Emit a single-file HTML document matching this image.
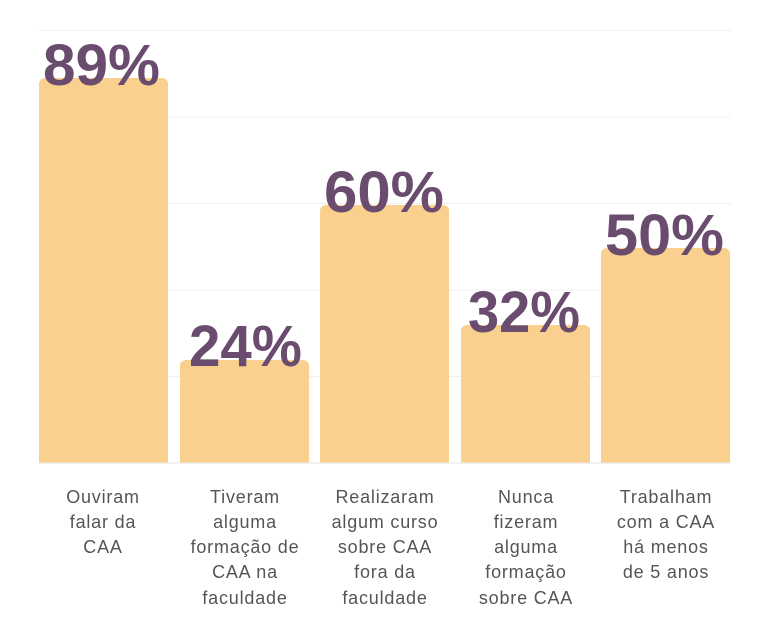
<!DOCTYPE html>
<html><head><meta charset="utf-8"><style>body{margin:0;background:#fff}svg{display:block}</style></head><body>
<svg width="768" height="633" xmlns="http://www.w3.org/2000/svg">
<g stroke="#f0f0f0" stroke-width="1">
<line x1="39" x2="731" y1="30.5" y2="30.5"/><line x1="39" x2="731" y1="117" y2="117"/><line x1="39" x2="731" y1="203.5" y2="203.5"/><line x1="39" x2="731" y1="290" y2="290"/><line x1="39" x2="731" y1="376.5" y2="376.5"/>
</g>
<g fill="#f9d08d">
<path d="M39 463V84a6 6 0 0 1 6-6h117a6 6 0 0 1 6 6V463z"/>
<path d="M180 463V366a6 6 0 0 1 6-6h117a6 6 0 0 1 6 6V463z"/>
<path d="M320 463V211a6 6 0 0 1 6-6h117a6 6 0 0 1 6 6V463z"/>
<path d="M461 463V331a6 6 0 0 1 6-6h117a6 6 0 0 1 6 6V463z"/>
<path d="M601 463V254a6 6 0 0 1 6-6h117a6 6 0 0 1 6 6V463z"/>
</g>
<line x1="39" x2="731" y1="463" y2="463" stroke="#e6e6e6"/>
<g fill="#6a4c6e" font-family="Liberation Sans, sans-serif" font-weight="bold" font-size="58">
<text x="43" y="85" textLength="117" lengthAdjust="spacingAndGlyphs">89%</text>
<text x="189" y="366" textLength="113" lengthAdjust="spacingAndGlyphs">24%</text>
<text x="324" y="212" textLength="120" lengthAdjust="spacingAndGlyphs">60%</text>
<text x="468" y="332" textLength="112" lengthAdjust="spacingAndGlyphs">32%</text>
<text x="605" y="255" textLength="119" lengthAdjust="spacingAndGlyphs">50%</text>
</g>
<g fill="#555" font-family="Liberation Sans, sans-serif" font-size="18" letter-spacing="0.8" text-anchor="middle">
<text x="103" y="503">Ouviram</text><text x="103" y="528">falar da</text><text x="103" y="553">CAA</text>
<text x="245" y="503">Tiveram</text><text x="245" y="528">alguma</text><text x="245" y="553">formação de</text><text x="245" y="578">CAA na</text><text x="245" y="604">faculdade</text>
<text x="385" y="503">Realizaram</text><text x="385" y="528">algum curso</text><text x="385" y="553">sobre CAA</text><text x="385" y="578">fora da</text><text x="385" y="604">faculdade</text>
<text x="526" y="503">Nunca</text><text x="526" y="528">fizeram</text><text x="526" y="553">alguma</text><text x="526" y="578">formação</text><text x="526" y="604">sobre CAA</text>
<text x="666" y="503">Trabalham</text><text x="666" y="528">com a CAA</text><text x="666" y="553">há menos</text><text x="666" y="578">de 5 anos</text>
</g>
</svg>
</body></html>
